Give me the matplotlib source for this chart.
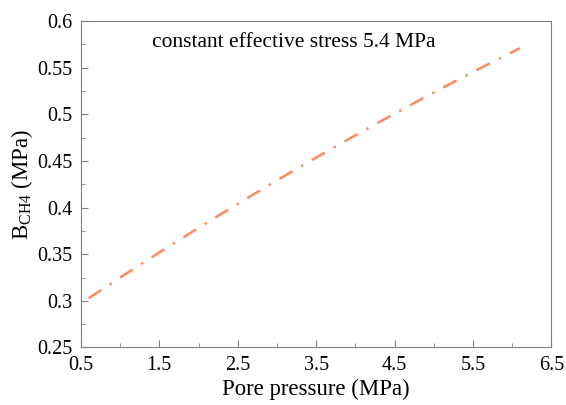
import matplotlib
matplotlib.use("Agg")
import matplotlib.pyplot as plt
from matplotlib.ticker import MultipleLocator

# values
pore_pressure = [0.6, 1.0, 1.5, 2.0, 2.5, 3.0, 3.5, 4.0, 4.5, 5.0, 5.5, 6.1]
b_ch4 = [0.3029, 0.3250, 0.3519, 0.3783, 0.4040, 0.4292, 0.4536, 0.4775,
         0.5007, 0.5234, 0.5454, 0.5709]
x_ticks = [0.5, 1.5, 2.5, 3.5, 4.5, 5.5, 6.5]
y_ticks = [0.25, 0.3, 0.35, 0.4, 0.45, 0.5, 0.55, 0.6]

plt.rcParams['font.family'] = ['Liberation Serif', 'DejaVu Serif']
plt.rcParams['mathtext.fontset'] = 'custom'
plt.rcParams['mathtext.rm'] = 'Liberation Serif'

fig = plt.figure(figsize=(5.66, 4.05), dpi=100)
ax = fig.add_axes([0.143, 0.142, 0.831, 0.806])

ax.plot(pore_pressure, b_ch4, color='#ff8a5c', lw=1.8, linestyle=(0, (6, 4, 1, 4)))

ax.set_xlim(0.5, 6.5)
ax.set_ylim(0.25, 0.6)
ax.set_xticks(x_ticks)
ax.set_xticklabels([f"{v:g}" for v in x_ticks])
ax.set_yticks(y_ticks)
ax.set_yticklabels([f"{v:g}" for v in y_ticks])
ax.xaxis.set_minor_locator(MultipleLocator(0.5))
ax.yaxis.set_minor_locator(MultipleLocator(0.025))

ax.tick_params(which='both', direction='in', color='#808080', labelsize=14.5, pad=6)
ax.tick_params(which='major', length=5)
ax.tick_params(which='minor', length=3)
for s in ax.spines.values():
    s.set_color('#808080')

ax.set_xlabel("Pore pressure (MPa)", fontsize=16.4, labelpad=3)
ax.set_ylabel(r"B$_{\mathrm{CH4}}$ (MPa)", fontsize=16.4, labelpad=2)
ax.text(1.41, 0.5775, "constant effective stress 5.4 MPa", fontsize=15.5, ha='left', va='center')

fig.savefig("out.png", dpi=100)
